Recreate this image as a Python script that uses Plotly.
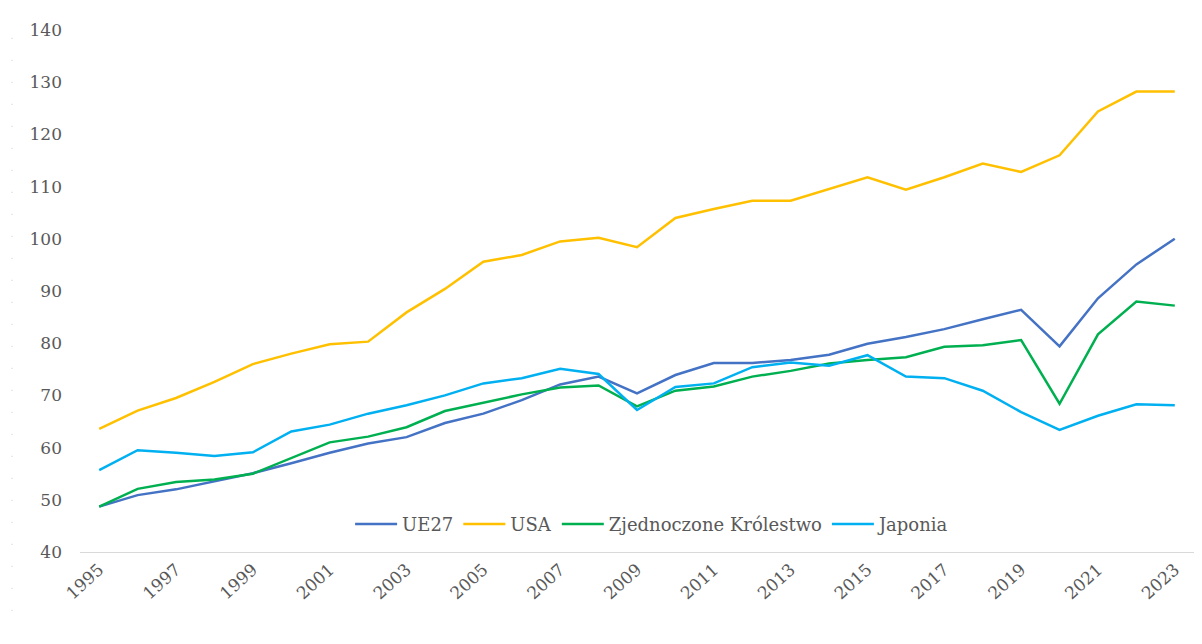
import plotly.graph_objects as go

# Data
YEARS = list(range(1995, 2024))

UE27 = [48.7, 50.9, 52.0, 53.5, 55.1, 57.0, 59.0, 60.8, 62.0, 64.7, 66.5, 69.1, 72.1, 73.6, 70.4,
        73.9, 76.2, 76.2, 76.8, 77.8, 79.9, 81.2, 82.7, 84.6, 86.4, 79.4, 88.6, 95.1, 100.0]
USA = [63.6, 67.1, 69.5, 72.6, 76.0, 78.0, 79.8, 80.3, 85.9, 90.4, 95.6, 96.9, 99.5, 100.2, 98.4,
       104.0, 105.7, 107.3, 107.3, 109.5, 111.8, 109.4, 111.8, 114.4, 112.8, 116.0, 124.4, 128.2, 128.2]
UK = [48.7, 52.1, 53.4, 53.9, 55.0, 58.0, 61.0, 62.1, 63.9, 67.0, 68.6, 70.2, 71.5, 71.9, 67.9,
      70.9, 71.7, 73.6, 74.7, 76.1, 76.8, 77.3, 79.3, 79.6, 80.6, 68.4, 81.7, 88.0, 87.2]
JAPAN = [55.7, 59.5, 59.0, 58.4, 59.1, 63.1, 64.4, 66.5, 68.1, 70.0, 72.3, 73.3, 75.1, 74.1, 67.2,
         71.6, 72.3, 75.4, 76.3, 75.7, 77.7, 73.6, 73.3, 70.9, 66.8, 63.4, 66.1, 68.3, 68.1]

SERIES = [
    ('UE27', UE27, '#4472C4'),
    ('USA', USA, '#FFC000'),
    ('Zjednoczone Królestwo', UK, '#00B050'),
    ('Japonia', JAPAN, '#00B0F0'),
]

X_TICKS = list(range(1995, 2024, 2))
Y_TICKS = list(range(40, 141, 10))

TEXT_GRAY = '#595959'
FONT = 'DejaVu Serif'

fig = go.Figure()
for name, values, color in SERIES:
    fig.add_trace(go.Scatter(x=YEARS, y=values, name=name, mode='lines',
                             line=dict(color=color, width=2.5)))

# the page body adds an 8px offset, so margins are shifted by that much
fig.update_layout(
    width=1202, height=644,
    paper_bgcolor='white', plot_bgcolor='white',
    margin=dict(l=72, r=16, t=20, b=100),
    font=dict(family=FONT, color=TEXT_GRAY, size=17),
    legend=dict(orientation='h', x=0.514, xanchor='center', y=0.053, yanchor='middle',
                itemwidth=42, bgcolor='rgba(0,0,0,0)',
                font=dict(size=18, color=TEXT_GRAY, family=FONT)),
    xaxis=dict(range=[1994.5, 2023.5], tickvals=X_TICKS, tickangle=-42, showgrid=False,
               zeroline=False, showline=True, linecolor='#D9D9D9', linewidth=1, ticks='',
               tickfont=dict(size=17, color=TEXT_GRAY, family=FONT)),
    yaxis=dict(range=[40, 140], tickvals=Y_TICKS, showgrid=False, zeroline=False, showline=False,
               ticks='', ticklabelstandoff=17, tickfont=dict(size=17, color=TEXT_GRAY, family=FONT)),
)

# faint dotted border on the far left
fig.add_shape(type='line', xref='paper', yref='paper', x0=-0.061, x1=-0.061, y0=0.985, y1=-0.13,
              line=dict(color='#C8C8C8', width=1, dash='1px,21px'), layer='below')

fig.write_html('out.html')
